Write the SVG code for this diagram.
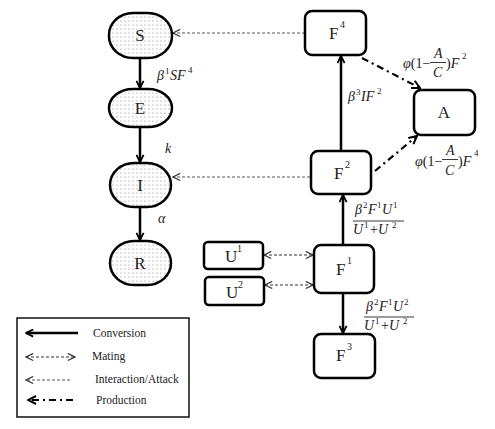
<svg xmlns="http://www.w3.org/2000/svg" width="495" height="429" viewBox="0 0 495 429">
<defs>
<pattern id="dots" width="4" height="4" patternUnits="userSpaceOnUse">
<rect width="4" height="4" fill="#ffffff"/>
<circle cx="1" cy="1" r="0.5" fill="#666"/>
</pattern>
<marker id="hs" viewBox="0 0 10 10" refX="9" refY="5" markerWidth="9" markerHeight="9" markerUnits="userSpaceOnUse" orient="auto-start-reverse">
<path d="M1,1 L9,5 L1,9" fill="none" stroke="#000" stroke-width="2"/>
</marker>
<marker id="hd" viewBox="0 0 10 10" refX="9" refY="5" markerWidth="9" markerHeight="9" markerUnits="userSpaceOnUse" orient="auto-start-reverse">
<path d="M1,1 L9,5 L1,9" fill="none" stroke="#333" stroke-width="1.3"/>
</marker>
<marker id="hp" viewBox="0 0 10 10" refX="9" refY="5" markerWidth="10" markerHeight="10" markerUnits="userSpaceOnUse" orient="auto-start-reverse">
<path d="M1,1 L9,5 L1,9" fill="none" stroke="#000" stroke-width="2"/>
</marker>
</defs>
<style>
text{font-family:'Liberation Serif','Times New Roman','DejaVu Serif',serif}
.oval{fill:url(#dots);stroke:#000;stroke-width:2.5}
.box{fill:#fff;stroke:#000;stroke-width:2.5}
.lab{font-size:17px;fill:#222}
.sup{font-size:10px;fill:#222}
.m{font-style:italic;font-size:14px;fill:#222}
.ms{font-size:9px;fill:#222}
.leg{font-size:11.5px;fill:#222}
.conv{stroke:#000;stroke-width:2.5;fill:none}
.mate{stroke:#333;stroke-width:1.2;stroke-dasharray:3,2;fill:none}
.inter{stroke:#555;stroke-width:1;stroke-dasharray:3,2;fill:none}
.prod{stroke:#000;stroke-width:2.2;stroke-dasharray:7,4,2,4;fill:none}
</style>
<rect width="495" height="429" fill="#fff"/>

<g id="connectors">
<line class="conv" x1="140" y1="58" x2="140" y2="88" marker-end="url(#hs)"/>
<line class="conv" x1="140" y1="127" x2="140" y2="162" marker-end="url(#hs)"/>
<line class="conv" x1="140" y1="207" x2="140" y2="240" marker-end="url(#hs)"/>
<line class="inter" x1="305" y1="33" x2="173" y2="33" marker-end="url(#hd)"/>
<line class="inter" x1="310" y1="177" x2="173" y2="177" marker-end="url(#hd)"/>
<line class="conv" x1="341" y1="151" x2="341" y2="56" marker-end="url(#hs)"/>
<line class="conv" x1="343" y1="245" x2="343" y2="195" marker-end="url(#hs)"/>
<line class="conv" x1="343" y1="293" x2="343" y2="333" marker-end="url(#hs)"/>
<line class="prod" x1="362" y1="58" x2="420" y2="88" marker-end="url(#hp)"/>
<line class="prod" x1="375" y1="171" x2="417" y2="136" marker-end="url(#hp)"/>
<line class="mate" x1="264" y1="255" x2="313" y2="255" marker-start="url(#hd)" marker-end="url(#hd)"/>
<line class="mate" x1="265" y1="285" x2="313" y2="285" marker-start="url(#hd)" marker-end="url(#hd)"/>
</g>

<g id="node-S"><rect class="oval" x="109" y="13" width="63" height="45" rx="24" ry="22"/><text class="lab" x="140" y="41" text-anchor="middle">S</text></g>
<g id="node-E"><rect class="oval" x="109" y="89" width="63" height="38" rx="24" ry="19"/><text class="lab" x="140" y="114" text-anchor="middle">E</text></g>
<g id="node-I"><rect class="oval" x="110" y="163" width="61" height="44" rx="24" ry="22"/><text class="lab" x="140" y="191" text-anchor="middle">I</text></g>
<g id="node-R"><rect class="oval" x="110" y="241" width="61" height="44" rx="24" ry="22"/><text class="lab" x="140" y="269" text-anchor="middle">R</text></g>

<g id="node-F4"><rect class="box" x="305" y="11" width="61" height="44" rx="7"/><text class="lab" x="329" y="39">F</text><text class="sup" x="340" y="28">4</text></g>
<g id="node-A"><rect class="box" x="414" y="90" width="61" height="45" rx="7"/><text class="lab" x="444" y="118" text-anchor="middle">A</text></g>
<g id="node-F2"><rect class="box" x="311" y="151" width="60" height="43" rx="7"/><text class="lab" x="334" y="179">F</text><text class="sup" x="345" y="168">2</text></g>
<g id="node-F1"><rect class="box" x="314" y="245" width="60" height="48" rx="7"/><text class="lab" x="336" y="275">F</text><text class="sup" x="347" y="264">1</text></g>
<g id="node-F3"><rect class="box" x="314" y="334" width="61" height="44" rx="7"/><text class="lab" x="336" y="361">F</text><text class="sup" x="347" y="350">3</text></g>
<g id="node-U1"><rect class="box" x="204" y="242" width="59" height="27" rx="4"/><text class="lab" x="225" y="262">U</text><text class="sup" x="237" y="252">1</text></g>
<g id="node-U2"><rect class="box" x="205" y="277" width="59" height="28" rx="4"/><text class="lab" x="226" y="298">U</text><text class="sup" x="238" y="288">2</text></g>

<g id="labels">
<text class="m" x="157" y="80">β</text><text class="ms" x="165" y="74">1</text><text class="m" x="170" y="80">SF</text><text class="ms" x="188" y="73">4</text>
<text class="m" x="165" y="153">k</text>
<text class="m" x="158" y="223">α</text>
<text class="m" x="348" y="101">β</text><text class="ms" x="356" y="95">3</text><text class="m" x="361" y="101">IF</text><text class="ms" x="377" y="94">2</text>

<text class="m" x="403" y="68">φ<tspan font-style="normal">(1−</tspan></text>
<text class="m" x="434" y="58">A</text>
<line x1="430" y1="62.5" x2="446" y2="62.5" stroke="#222" stroke-width="0.9"/>
<text class="m" x="433" y="77">C</text>
<text class="m" x="446" y="68"><tspan font-style="normal">)</tspan>F</text><text class="ms" x="462" y="59">2</text>

<text class="m" x="415" y="166">φ<tspan font-style="normal">(1−</tspan></text>
<text class="m" x="446" y="155">A</text>
<line x1="442" y1="159.5" x2="458" y2="159.5" stroke="#222" stroke-width="0.9"/>
<text class="m" x="445" y="175">C</text>
<text class="m" x="458" y="166"><tspan font-style="normal">)</tspan>F</text><text class="ms" x="474" y="156">4</text>

<text class="m" x="355" y="214">β</text><text class="ms" x="363" y="208">2</text><text class="m" x="368" y="214">F</text><text class="ms" x="377" y="208">1</text><text class="m" x="382" y="214">U</text><text class="ms" x="393" y="208">1</text>
<line x1="353" y1="221" x2="404" y2="221" stroke="#222" stroke-width="0.9"/>
<text class="m" x="353" y="234">U</text><text class="ms" x="364" y="228">1</text><text class="m" x="370" y="234"><tspan font-style="normal">+</tspan>U</text><text class="ms" x="392" y="228">2</text>

<text class="m" x="366" y="311">β</text><text class="ms" x="374" y="305">2</text><text class="m" x="379" y="311">F</text><text class="ms" x="388" y="305">1</text><text class="m" x="393" y="311">U</text><text class="ms" x="404" y="305">2</text>
<line x1="364" y1="317" x2="414" y2="317" stroke="#222" stroke-width="0.9"/>
<text class="m" x="364" y="330">U</text><text class="ms" x="375" y="324">1</text><text class="m" x="381" y="330"><tspan font-style="normal">+</tspan>U</text><text class="ms" x="403" y="324">2</text>
</g>

<g id="legend">
<rect x="17" y="318" width="172" height="99" fill="#fff" stroke="#111" stroke-width="1.5"/>
<line class="conv" x1="78" y1="333" x2="26" y2="333" marker-end="url(#hs)"/>
<text class="leg" x="93" y="337">Conversion</text>
<line class="mate" x1="26" y1="357" x2="75" y2="357" marker-start="url(#hd)" marker-end="url(#hd)"/>
<text class="leg" x="92" y="360">Mating</text>
<line class="inter" x1="70" y1="380" x2="26" y2="380" marker-end="url(#hd)"/>
<text class="leg" x="95" y="383">Interaction/Attack</text>
<line class="prod" x1="73" y1="400" x2="28" y2="400" marker-end="url(#hp)"/>
<text class="leg" x="96" y="404">Production</text>
</g>
</svg>
